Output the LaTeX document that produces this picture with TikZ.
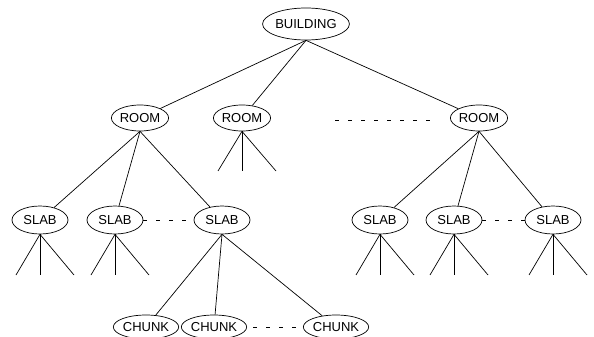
\documentclass[tikz,border=0pt]{standalone}
\usepackage{fontspec}
\setmainfont{Liberation Sans}
\usetikzlibrary{shapes.geometric}
\begin{document}
\begin{tikzpicture}[x=1pt,y=-1pt,
  every path/.style={line width=0.7pt},
  oval/.style={ellipse,draw,inner sep=0pt,font=\fontsize{13}{15}\selectfont},
  bigoval/.style={oval,minimum width=86pt,minimum height=32pt},
  roomoval/.style={oval,minimum width=54pt,minimum height=26pt},
  slaboval/.style={oval,minimum width=56pt,minimum height=28pt},
  chunkoval/.style={oval,minimum width=58pt,minimum height=24pt},
  gap/.style={dash pattern=on 4pt off 9pt}]
\useasboundingbox (0,0) rectangle (594,337);

% tree nodes
\node[bigoval]  (b)  at (306,24)  {BUILDING};
\node[roomoval] (r1) at (140,118) {ROOM};
\node[roomoval] (r2) at (242,118) {ROOM};
\node[roomoval] (r3) at (479,118) {ROOM};
\node[slaboval] (s1) at (40,220)  {SLAB};
\node[slaboval] (s2) at (115,220) {SLAB};
\node[slaboval] (s3) at (222,220) {SLAB};
\node[slaboval] (s4) at (380,220) {SLAB};
\node[slaboval] (s5) at (454,220) {SLAB};
\node[slaboval] (s6) at (553,220) {SLAB};
\node[chunkoval] (c1) at (146,327) {CHUNK};
\node[chunkoval] (c2) at (214,327) {CHUNK};
\node[chunkoval] (c3) at (336,327) {CHUNK};

% edges
\foreach \r in {r1,r2,r3} \draw (b.south) -- (\r);
\foreach \s in {s1,s2,s3} \draw (r1.south) -- (\s);
\foreach \s in {s4,s5,s6} \draw (r3.south) -- (\s);
\foreach \c in {c1,c2,c3} \draw (s3.south) -- (\c);

% open-ended fans below the unexpanded nodes
\foreach \n/\y in {r2/171,s1/275,s2/275,s4/275,s5/275,s6/275}{
  \path (\n.south) ++(-24,0) coordinate (\n-l);
  \coordinate (\n-L) at (\n-l |- 0,\y);
  \coordinate (\n-M) at (\n.south |- 0,\y);
  \path (\n.south) ++(34,0) coordinate (\n-r);
  \coordinate (\n-R) at (\n-r |- 0,\y);
  \draw (\n.south) -- (\n-L);
  \draw (\n.south) -- (\n-M);
  \draw (\n.south) -- (\n-R);
}

% elided siblings
\coordinate (e1) at (335,120);
\coordinate (e2) at (432,120);
\draw[gap] (e1) -- (e2);
\draw[gap] (s2.east) -- (s3.west);
\draw[gap] (s5.east) -- (s6.west);
\draw[gap,shorten <=6pt] (c2.east) -- (c3.west);
\end{tikzpicture}
\end{document}
